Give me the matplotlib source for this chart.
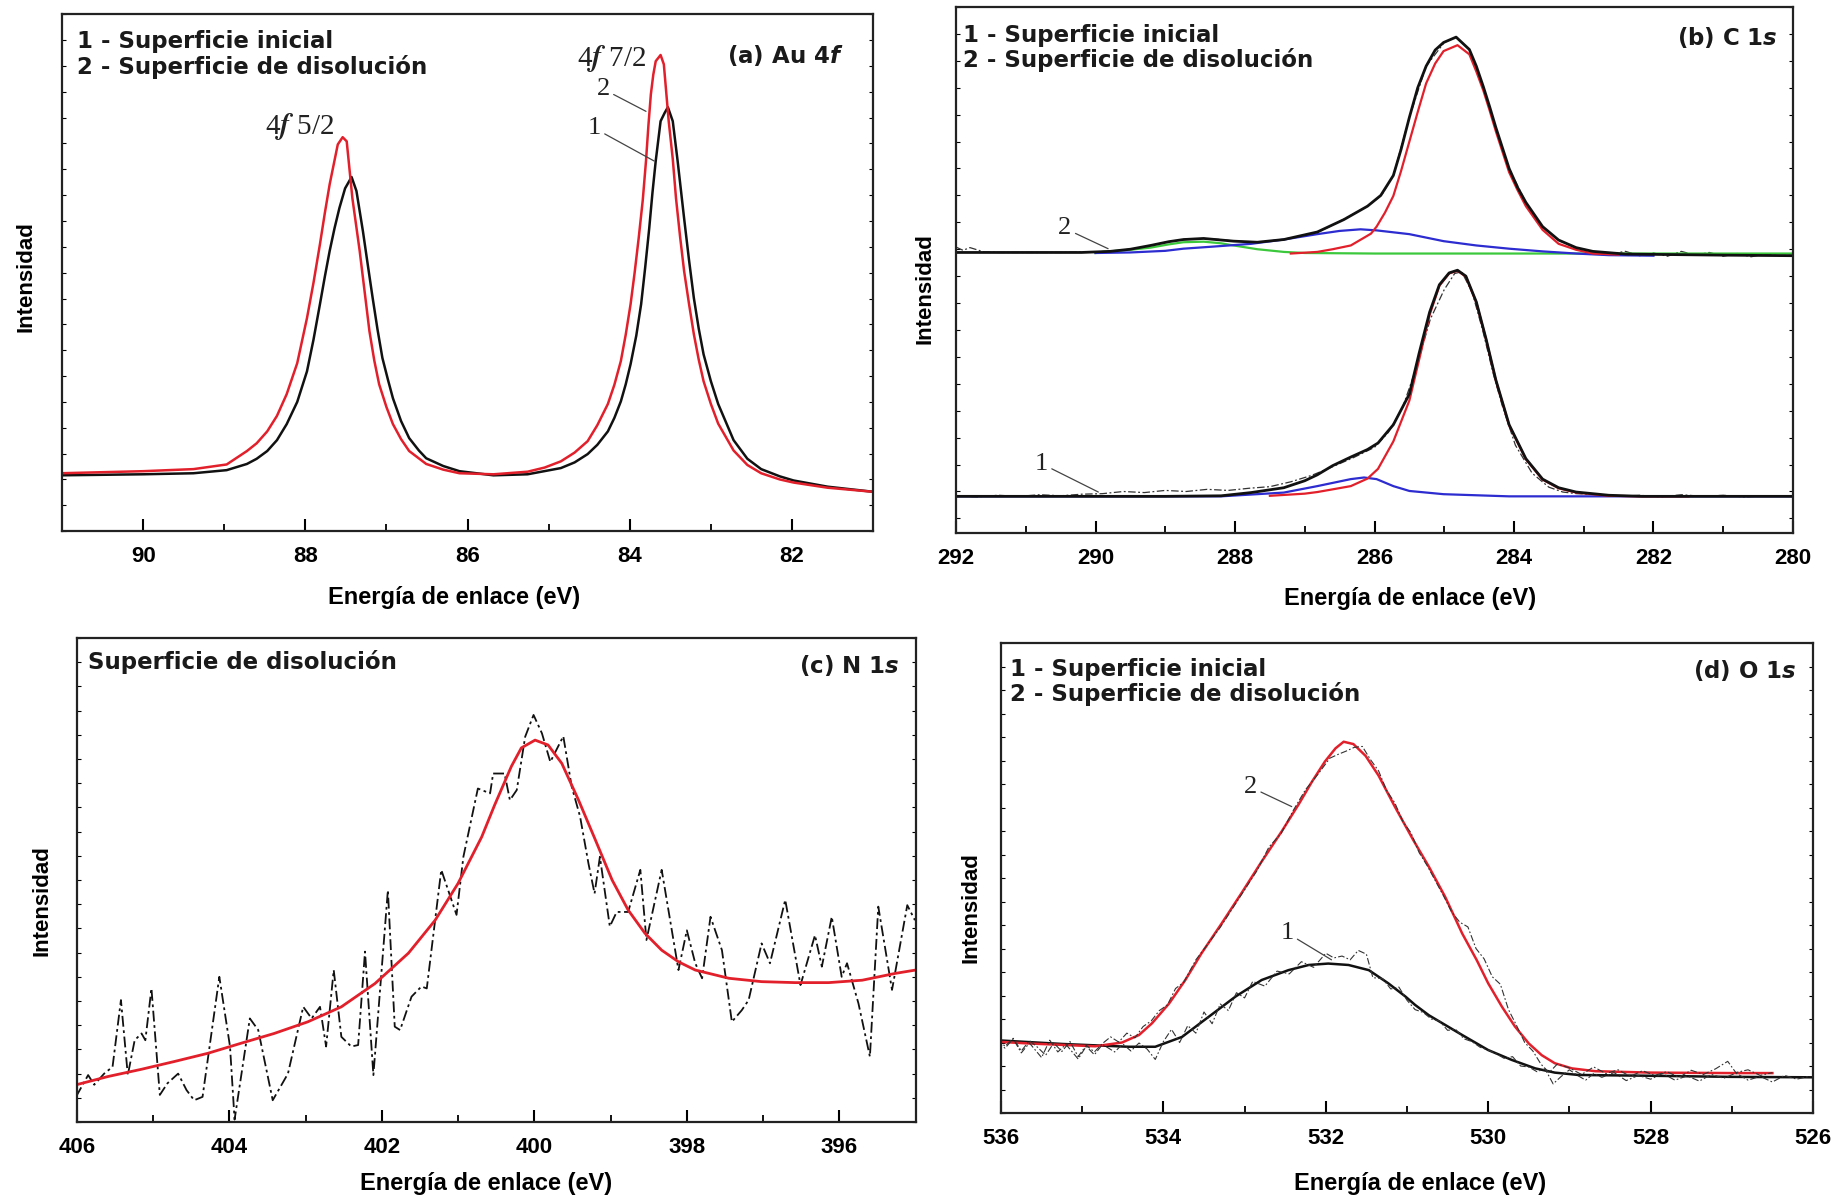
import matplotlib.pyplot as plt
from matplotlib.ticker import MultipleLocator

plt.rcParams['font.family'] = 'Liberation Sans'
plt.rcParams['font.weight'] = 'bold'

RED = '#e2202b'
BLACK = '#111111'
BLUE = '#2c2cd0'
GREEN = '#3cc83c'

# ---------------- (a) Au 4f ----------------
au_ev_ini = [91.02, 90.0, 89.38, 88.97, 88.72, 88.6, 88.47, 88.35, 88.23, 88.1, 87.98, 87.9, 87.82, 87.76,
             87.70, 87.64, 87.58, 87.51, 87.43, 87.37, 87.29, 87.23, 87.17, 87.11, 87.05, 86.98, 86.92,
             86.82, 86.72, 86.6, 86.51, 86.3, 86.10, 85.68, 85.26, 84.85, 84.68, 84.52, 84.4, 84.27,
             84.19, 84.11, 84.05, 83.99, 83.92, 83.86, 83.81, 83.76, 83.72, 83.68, 83.62, 83.57, 83.53,
             83.47, 83.41, 83.33, 83.27, 83.21, 83.15, 83.09, 83.0, 82.91, 82.72, 82.55, 82.38, 82.15,
             81.98, 81.56, 80.99]
au_int_ini = [10.8, 11.0, 11.2, 11.8, 13.0, 14.0, 15.5, 17.6, 20.7, 25.0, 30.9, 37.0, 43.9, 49.2,
              54.2, 58.6, 62.5, 66.3, 68.5, 65.8, 58.0, 51.5, 45.1, 39.0, 33.5, 29.2, 25.7,
              21.3, 18.0, 15.6, 14.1, 12.6, 11.6, 10.8, 11.0, 12.2, 13.3, 14.9, 16.7, 19.3,
              21.9, 25.1, 28.4, 32.3, 37.8, 43.9, 51.0, 58.6, 65.5, 71.6, 79.3, 80.9, 82.0,
              79.3, 71.6, 60.5, 52.5, 45.1, 39.2, 34.2, 29.0, 24.6, 17.6, 14.0, 12.0, 10.6,
              9.8, 8.6, 7.6]
au_ev_dis = [91.02, 90.0, 89.38, 88.97, 88.72, 88.6, 88.47, 88.35, 88.23, 88.1, 87.98, 87.9, 87.82, 87.76,
             87.70, 87.60, 87.54, 87.49, 87.42, 87.33, 87.21, 87.15, 87.09, 87.0, 86.92, 86.82, 86.72,
             86.51, 86.3, 86.10, 85.68, 85.26, 85.05, 84.85, 84.68, 84.52, 84.4, 84.27, 84.19, 84.11,
             84.05, 83.99, 83.94, 83.89, 83.84, 83.80, 83.77, 83.74, 83.71, 83.68, 83.62, 83.58, 83.52,
             83.47, 83.43, 83.38, 83.33, 83.27, 83.21, 83.15, 83.09, 83.0, 82.91, 82.72, 82.55, 82.38,
             82.15, 81.98, 81.56, 80.99]
au_int_dis = [11.2, 11.6, 12.0, 12.9, 15.5, 17.0, 19.3, 22.3, 26.5, 32.5, 41.2, 48.0, 55.5, 61.5,
              67.1, 74.8, 76.2, 75.4, 64.4, 54.2, 38.7, 33.0, 28.4, 24.0, 20.7, 17.8, 15.5,
              13.0, 11.9, 11.2, 11.0, 11.5, 12.3, 13.5, 15.2, 17.4, 20.5, 24.6, 28.3, 32.9,
              38.0, 43.9, 50.0, 56.7, 64.0, 71.6, 78.5, 84.5, 88.3, 90.9, 92.1, 90.3, 79.3,
              72.0, 64.4, 57.0, 50.3, 44.0, 38.1, 33.2, 29.0, 24.6, 20.8, 15.6, 12.8, 11.2,
              10.0, 9.4, 8.4, 7.6]

# ---------------- (b) C 1s ----------------
c2_env_ev = [292.0, 291.0, 290.2, 289.79, 289.5, 289.21, 288.95, 288.74, 288.45, 288.02, 287.68, 287.30,
             286.82, 286.44, 286.10, 285.91, 285.73, 285.62, 285.50, 285.38, 285.26, 285.13, 285.01,
             284.83, 284.64, 284.54, 284.44, 284.35, 284.26, 284.07, 283.95, 283.83, 283.59, 283.36,
             283.11, 282.87, 282.4, 281.0, 280.0]
c2_env_int = [54.4, 54.4, 54.4, 54.6, 55.0, 55.7, 56.4, 56.8, 57.0, 56.5, 56.3, 56.8,
              58.2, 60.5, 63.0, 65.0, 68.7, 73.5, 79.5, 85.0, 89.0, 92.0, 93.4,
              94.4, 92.1, 89.0, 85.2, 81.5, 77.6, 70.0, 66.5, 63.7, 59.2, 56.7,
              55.3, 54.6, 54.1, 53.9, 53.8]
c2_red_ev = [287.2, 286.82, 286.6, 286.34, 286.05, 285.97, 285.85, 285.73, 285.62, 285.50, 285.38, 285.26,
             285.13, 285.01, 284.81, 284.64, 284.54, 284.44, 284.35, 284.26, 284.07, 283.95, 283.83,
             283.59, 283.36, 283.11, 282.87, 282.5]
c2_red_int = [54.2, 54.5, 55.0, 55.7, 57.9, 59.2, 61.8, 64.9, 69.5, 75.0, 80.5, 85.8,
              89.5, 91.8, 92.9, 91.2, 88.0, 84.5, 80.8, 76.9, 69.3, 66.0, 63.0,
              58.6, 56.0, 54.9, 54.2, 54.0]
c2_blue_ev = [290.0, 289.5, 289.0, 288.74, 288.3, 287.77, 287.3, 286.82, 286.50, 286.20, 285.97, 285.50,
              285.01, 284.54, 284.07, 283.59, 283.11, 282.64, 282.0]
c2_blue_int = [54.3, 54.4, 54.7, 55.1, 55.5, 56.0, 56.8, 57.8, 58.4, 58.7, 58.5, 57.8,
               56.5, 55.7, 55.1, 54.6, 54.2, 53.9, 53.8]
c2_green_ev = [290.0, 289.9, 289.5, 289.21, 288.95, 288.74, 288.45, 288.2, 288.02, 287.68, 287.3, 287.0,
               286.0, 280.0]
c2_green_int = [54.3, 54.5, 54.9, 55.3, 55.9, 56.3, 56.4, 56.1, 55.7, 55.0, 54.5, 54.3,
                54.2, 54.2]
c2_data_ev = [292.0, 291.9, 291.8, 291.7, 291.6, 291.4, 291.0, 290.5, 290.0, 289.7, 289.4, 289.2, 289.0,
              288.7, 288.45, 288.2, 288.0, 287.7, 287.3, 286.8, 286.45, 286.1, 285.9, 285.73, 285.5,
              285.26, 285.0, 284.83, 284.64, 284.44, 284.26, 284.07, 283.83, 283.59, 283.36, 283.11,
              282.87, 282.6, 282.4, 282.2, 282.0, 281.8, 281.6, 281.4, 281.2, 281.0, 280.8, 280.6,
              280.4, 280.2, 280.0]
c2_data_int = [55.4, 54.8, 55.3, 54.9, 54.5, 54.4, 54.4, 54.4, 54.5, 54.7, 55.2, 55.7, 56.3,
               56.9, 57.0, 56.8, 56.5, 56.3, 56.8, 58.2, 60.5, 63.0, 65.0, 68.7, 79.5,
               89.0, 93.4, 94.4, 92.1, 85.2, 77.6, 70.0, 63.7, 59.2, 56.7, 55.3,
               54.6, 54.2, 54.6, 53.8, 54.3, 53.7, 54.6, 53.9, 54.4, 53.7, 54.2, 53.6,
               54.1, 53.8, 53.9]

c1_env_ev = [292.0, 289.0, 288.2, 287.77, 287.3, 287.0, 286.82, 286.6, 286.34, 286.1, 285.95, 285.73,
             285.5, 285.36, 285.21, 285.07, 284.93, 284.81, 284.69, 284.54, 284.4, 284.26, 284.07,
             283.83, 283.59, 283.36, 283.11, 282.64, 282.16, 280.0]
c1_env_int = [9.1, 9.1, 9.2, 9.8, 10.7, 12.0, 13.1, 14.8, 16.4, 17.8, 19.0, 22.4,
              28.1, 35.7, 43.3, 48.4, 50.6, 51.1, 50.0, 45.2, 38.3, 30.7, 22.4,
              16.1, 12.3, 10.7, 9.9, 9.3, 9.1, 9.1]
c1_red_ev = [287.5, 287.0, 286.82, 286.6, 286.34, 286.1, 285.95, 285.73, 285.5, 285.36, 285.21, 285.07,
             284.93, 284.81, 284.69, 284.54, 284.4, 284.26, 284.07, 283.83, 283.59, 283.36, 283.11,
             282.64, 282.16, 281.5]
c1_red_int = [9.2, 9.6, 9.9, 10.4, 11.0, 12.4, 14.2, 19.3, 26.9, 34.5, 42.8, 48.2,
              50.5, 51.0, 49.9, 45.1, 38.2, 30.6, 22.3, 16.0, 12.2, 10.6, 9.8,
              9.2, 9.1, 9.1]
c1_blue_ev = [292.0, 288.2, 287.3, 286.82, 286.34, 286.15, 285.97, 285.73, 285.5, 285.01, 284.07, 280.0]
c1_blue_int = [9.1, 9.1, 9.8, 11.0, 12.3, 12.6, 12.3, 11.0, 10.1, 9.5, 9.1, 9.1]
c1_data_ev = [292.0, 291.7, 291.4, 291.1, 290.8, 290.5, 290.2, 289.9, 289.6, 289.3, 289.0, 288.7, 288.4,
              288.1, 287.8, 287.5, 287.2, 286.9, 286.6, 286.3, 286.0, 285.8, 285.6, 285.4, 285.2,
              285.0, 284.85, 284.75, 284.6, 284.45, 284.3, 284.17, 283.98, 283.74, 283.5, 283.3,
              283.1, 282.8, 282.5, 282.2, 281.9, 281.6, 281.3, 281.0, 280.7, 280.4, 280.0]
c1_data_int = [9.2, 9.0, 9.3, 9.1, 9.4, 9.2, 9.5, 9.6, 10.0, 9.8, 10.2, 10.0, 10.4,
               10.2, 10.6, 10.9, 11.8, 13.0, 14.6, 16.3, 18.2, 21.0, 25.5, 33.0, 42.0,
               47.5, 50.5, 50.8, 47.0, 40.0, 32.0, 26.0, 18.6, 13.4, 10.8, 9.9,
               9.6, 9.4, 9.1, 9.3, 9.0, 9.4, 9.1, 9.3, 9.0, 9.2, 9.1]

# ---------------- (c) N 1s ----------------
n_data_ev = [406.01, 405.85, 405.77, 405.64, 405.53, 405.42, 405.33, 405.24, 405.15, 405.10, 405.02,
             404.91, 404.81, 404.67, 404.56, 404.46, 404.35, 404.13, 403.99, 403.93, 403.73, 403.62,
             403.43, 403.23, 403.03, 402.92, 402.81, 402.73, 402.63, 402.53, 402.40, 402.31, 402.22,
             402.11, 401.92, 401.83, 401.76, 401.61, 401.48, 401.41, 401.22, 401.02, 400.93, 400.74,
             400.58, 400.54, 400.39, 400.32, 400.23, 400.12, 400.01, 399.90, 399.79, 399.62, 399.51,
             399.40, 399.29, 399.21, 399.14, 399.01, 398.92, 398.77, 398.61, 398.53, 398.33, 398.11,
             398.00, 397.89, 397.80, 397.69, 397.54, 397.41, 397.28, 397.19, 397.02, 396.91, 396.71,
             396.51, 396.32, 396.23, 396.10, 395.97, 395.90, 395.75, 395.60, 395.49, 395.31, 395.11,
             395.01]
n_data_int = [5.2, 9.7, 7.7, 10.0, 11.4, 25.2, 9.7, 16.9, 18.3, 16.9, 27.6,
              5.6, 8.0, 10.0, 6.6, 4.5, 5.2, 30.0, 15.6, 0.5, 21.4, 19.0,
              4.5, 10.0, 23.8, 21.4, 23.8, 15.6, 31.4, 17.6, 15.6, 15.9, 35.2,
              9.7, 47.9, 19.7, 19.0, 25.9, 28.0, 27.6, 52.1, 42.8, 54.8, 68.9,
              67.9, 72.0, 72.0, 66.5, 68.6, 79.6, 84.1, 80.3, 74.4, 79.7, 69.3,
              63.1, 53.4, 47.2, 54.8, 40.4, 43.4, 43.4, 52.1, 37.6, 52.1, 31.4,
              39.6, 32.8, 29.7, 42.4, 35.5, 20.7, 23.1, 25.2, 36.9, 32.8, 45.9,
              28.3, 38.6, 32.1, 42.4, 30.0, 32.8, 24.5, 13.5, 44.5, 27.3, 44.8,
              41.7]
n_fit_ev = [406.03, 405.59, 405.15, 404.72, 404.28, 403.84, 403.41, 402.97, 402.53, 402.09, 401.65,
            401.30, 401.00, 400.69, 400.52, 400.30, 400.17, 399.99, 399.82, 399.64, 399.42, 399.20,
            398.98, 398.77, 398.55, 398.33, 398.11, 397.89, 397.45, 397.02, 396.58, 396.14, 395.70,
            395.27, 395.0]
n_fit_int = [7.6, 9.4, 10.9, 12.5, 14.2, 16.3, 18.3, 20.7, 23.8, 28.6, 34.9,
             41.7, 49.3, 58.9, 65.5, 73.5, 77.3, 78.9, 77.9, 74.1, 66.5, 58.3,
             50.0, 43.8, 39.0, 35.5, 33.1, 31.4, 29.7, 29.0, 28.8, 28.8, 29.3,
             30.7, 31.4]

# ---------------- (d) O 1s ----------------
o2_fit_ev = [536.07, 535.66, 535.25, 534.84, 534.51, 534.30, 534.14, 533.93, 533.73, 533.53, 533.28,
             533.03, 532.79, 532.54, 532.33, 532.17, 532.01, 531.88, 531.78, 531.66, 531.51, 531.35,
             531.15, 530.92, 530.73, 530.53, 530.32, 530.14, 530.00, 529.83, 529.67, 529.50, 529.34,
             529.18, 528.97, 528.68, 528.0, 527.0, 526.5]
o2_fit_int = [15.2, 14.8, 14.5, 14.2, 15.0, 16.6, 19.1, 23.3, 28.3, 34.0, 40.4,
              47.0, 53.5, 60.0, 65.8, 70.5, 74.8, 77.6, 79.0, 78.5, 76.0, 71.8,
              65.2, 58.0, 52.4, 46.0, 38.2, 32.5, 27.6, 22.6, 18.4, 14.8, 12.3,
              10.6, 9.5, 8.9, 8.6, 8.5, 8.5]
o1_fit_ev = [536.07, 535.25, 534.43, 534.10, 533.77, 533.44, 533.11, 532.79, 532.46, 532.21, 531.97,
             531.72, 531.47, 531.23, 531.02, 530.90, 530.73, 530.32, 530.0, 529.71, 529.42, 529.18,
             528.89, 527.86, 527.04, 526.0]
o1_fit_int = [15.5, 14.7, 14.1, 14.1, 16.2, 20.5, 24.8, 28.3, 30.4, 31.5, 31.8,
              31.5, 30.4, 27.6, 24.8, 23.0, 20.8, 16.6, 13.4, 11.3, 9.5, 8.6,
              8.1, 7.9, 7.7, 7.6]
o2_data_ev = [536.05, 535.95, 535.85, 535.75, 535.65, 535.55, 535.45, 535.35, 535.25, 535.15, 535.05,
              534.95, 534.85, 534.75, 534.65, 534.55, 534.45, 534.35, 534.25, 534.15, 534.05, 533.95,
              533.85, 533.75, 533.6, 533.45, 533.3, 533.15, 533.0, 532.85, 532.7, 532.55, 532.4,
              532.25, 532.1, 531.95, 531.85, 531.75, 531.65, 531.55, 531.45, 531.35, 531.25, 531.15,
              531.05, 530.95, 530.85, 530.75, 530.65, 530.55, 530.45, 530.35, 530.25, 530.15, 530.05,
              529.95, 529.85, 529.75, 529.65, 529.55, 529.45, 529.35, 529.25, 529.15, 529.0, 528.85,
              528.7, 528.55, 528.4, 528.25, 528.1, 527.95, 527.8, 527.65, 527.5, 527.35, 527.2,
              527.05, 526.95, 526.8, 526.65, 526.5]
o2_data_int = [15.8, 14.2, 15.9, 13.2, 15.4, 14.0, 12.3, 14.9, 13.1, 15.2, 12.0,
               14.4, 13.0, 14.8, 16.2, 15.1, 17.0, 16.0, 18.4, 19.6, 21.8, 23.0,
               26.5, 27.8, 32.6, 36.0, 39.5, 43.5, 47.5, 51.5, 56.6, 59.5, 64.4,
               68.8, 72.0, 75.5, 76.3, 77.0, 77.8, 78.0, 75.2, 72.8, 68.6, 66.0,
               62.0, 59.6, 55.4, 52.6, 49.4, 46.2, 42.8, 40.6, 39.6, 35.0, 32.8,
               29.0, 27.4, 22.0, 18.6, 15.0, 13.2, 10.4, 8.6, 10.4, 9.6, 8.2,
               9.8, 8.4, 9.2, 7.8, 9.0, 8.0, 8.8, 7.6, 9.1, 8.2, 9.4,
               11.0, 8.6, 9.2, 8.0, 8.6]
o1_data_ev = [536.05, 535.95, 535.85, 535.75, 535.65, 535.5, 535.4, 535.3, 535.2, 535.05, 534.95,
              534.85, 534.75, 534.6, 534.5, 534.4, 534.3, 534.2, 534.1, 534.0, 533.9, 533.8,
              533.7, 533.6, 533.5, 533.4, 533.3, 533.2, 533.1, 533.0, 532.9, 532.75, 532.6,
              532.45, 532.3, 532.15, 532.0, 531.9, 531.8, 531.7, 531.6, 531.5, 531.42, 531.3,
              531.2, 531.1, 531.0, 530.9, 530.8, 530.7, 530.6, 530.5, 530.4, 530.3, 530.2,
              530.1, 530.0, 529.9, 529.8, 529.7, 529.6, 529.5, 529.4, 529.3, 529.2, 529.1,
              529.0, 528.9, 528.8, 528.7, 528.6, 528.45, 528.3, 528.15, 528.0, 527.85, 527.7,
              527.55, 527.4, 527.25, 527.1, 526.95, 526.8, 526.65, 526.5, 526.35, 526.2, 526.05]
o1_data_int = [15.2, 13.8, 15.8, 12.8, 14.9, 11.8, 15.5, 13.0, 14.6, 11.5, 14.2,
               12.4, 14.6, 13.0, 14.7, 13.2, 14.9, 13.6, 11.4, 15.2, 17.8, 15.0,
               18.6, 17.0, 21.5, 19.0, 23.2, 21.8, 25.6, 24.5, 28.0, 27.0, 30.2,
               29.6, 32.2, 31.0, 34.0, 33.0, 33.4, 32.6, 34.6, 33.8, 28.8, 28.6,
               26.4, 26.8, 24.0, 22.0, 21.4, 20.0, 19.6, 17.6, 17.8, 15.8, 15.2,
               14.0, 13.4, 12.6, 11.6, 12.0, 10.0, 9.8, 8.8, 9.4, 6.2, 7.8,
               9.2, 8.0, 7.0, 8.4, 7.6, 8.6, 6.9, 8.0, 7.2, 8.4, 7.0,
               7.9, 6.8, 8.2, 7.4, 8.5, 7.0, 7.8, 6.6, 8.0, 7.2, 7.8]

LEG1 = '1 - Superficie inicial'
LEG2 = '2 - Superficie de disolución'
XLABEL = 'Energía de enlace (eV)'
YLABEL = 'Intensidad'
DASHDOT = (0, (6, 2, 1.5, 2))


def style_axes(ax, xlim, ylim, xlab_pos, ylab_pos):
    ax.set_xlim(*xlim)
    ax.set_ylim(*ylim)
    ax.xaxis.set_major_locator(MultipleLocator(2))
    ax.xaxis.set_minor_locator(MultipleLocator(1))
    ax.yaxis.set_major_locator(MultipleLocator(20))
    ax.yaxis.set_minor_locator(MultipleLocator(5))
    ax.tick_params(axis='both', which='both', direction='in', right=True)
    ax.tick_params(axis='x', which='major', length=9, width=1.5, pad=11, labelsize=16)
    ax.tick_params(axis='x', which='minor', length=5, width=1.3)
    ax.tick_params(axis='y', which='both', length=3, width=0.8, labelleft=False)
    for lab in ax.get_xticklabels():
        lab.set_fontweight('bold')
    for sp in ax.spines.values():
        sp.set_linewidth(1.6)
        sp.set_color('#222222')
    ax.set_xlabel(XLABEL, fontsize=17, fontweight='bold', va='center')
    ax.xaxis.set_label_coords(*xlab_pos)
    ax.set_ylabel(YLABEL, fontsize=16, fontweight='bold', va='center')
    ax.yaxis.set_label_coords(*ylab_pos)


def header(ax, lines, x, ys, label, italic, lx, ly):
    for s, y in zip(lines, ys):
        ax.text(x, y, s, transform=ax.transAxes, family='DejaVu Sans', fontweight='bold',
                fontsize=16.5, va='baseline', ha='left', color='#1a1a1a')
    ax.text(lx, ly, label + r'$\mathbfit{' + italic + '}$', transform=ax.transAxes,
            family='DejaVu Sans', fontweight='bold', fontsize=16.5, va='baseline', ha='right',
            math_fontfamily='dejavusans', color='#1a1a1a')


def tag(ax, s, xytext, xy, size=19):
    ax.annotate(s, xy=xy, xytext=xytext, ha='center', va='center', fontsize=size,
                family='Liberation Serif', fontweight='normal', color='#222222',
                arrowprops=dict(arrowstyle='-', lw=0.9, color='#444444', shrinkA=1, shrinkB=0,
                                relpos=(1.0, 0.35)))


fig = plt.figure(figsize=(18.35, 11.99), dpi=100)
ax_a = fig.add_axes([0.0338, 0.5570, 0.4420, 0.4312])
ax_b = fig.add_axes([0.5210, 0.5555, 0.4561, 0.4387])
ax_c = fig.add_axes([0.0418, 0.0642, 0.4572, 0.4037])
ax_d = fig.add_axes([0.5455, 0.0717, 0.4425, 0.3920])

# --- (a) ---
ax_a.plot(au_ev_ini, au_int_ini, color=BLACK, lw=1.8)
ax_a.plot(au_ev_dis, au_int_dis, color=RED, lw=1.8)
style_axes(ax_a, (91, 81), (0, 100), (0.483, -0.128), (-0.044, 0.493))
header(ax_a, [LEG1, LEG2], 0.0185, [0.934, 0.885], '(a) Au 4', 'f', 0.963, 0.906)
ax_a.text(88.07, 78.3, r'4$\it{f}$ 5/2', ha='center', va='center', fontsize=21,
          family='Liberation Serif', fontweight='normal', math_fontfamily='stix', color='#222222')
ax_a.text(84.22, 91.5, r'4$\it{f}$ 7/2', ha='center', va='center', fontsize=21,
          family='Liberation Serif', fontweight='normal', math_fontfamily='stix', color='#222222')
tag(ax_a, '2', (84.33, 85.5), (83.80, 81.2))
tag(ax_a, '1', (84.44, 77.9), (83.70, 71.6))

# --- (b) ---
ax_b.plot(c2_data_ev, c2_data_int, color='#333333', lw=0.9, ls=DASHDOT)
ax_b.plot(c1_data_ev, c1_data_int, color='#333333', lw=0.9, ls=DASHDOT)
ax_b.plot(c2_green_ev, c2_green_int, color=GREEN, lw=1.6)
ax_b.plot(c2_blue_ev, c2_blue_int, color=BLUE, lw=1.6)
ax_b.plot(c1_blue_ev, c1_blue_int, color=BLUE, lw=1.6)
ax_b.plot(c2_red_ev, c2_red_int, color=RED, lw=1.6)
ax_b.plot(c1_red_ev, c1_red_int, color=RED, lw=1.6)
ax_b.plot(c2_env_ev, c2_env_int, color=BLACK, lw=2.0)
ax_b.plot(c1_env_ev, c1_env_int, color=BLACK, lw=2.0)
style_axes(ax_b, (292, 280), (2.3, 100), (0.542, -0.125), (-0.0376, 0.464))
header(ax_b, [LEG1, LEG2], 0.0085, [0.933, 0.885], '(b) C 1', 's', 0.982, 0.928)
tag(ax_b, '2', (290.44, 58.9), (289.82, 55.1))
tag(ax_b, '1', (290.78, 15.2), (289.96, 9.9))

# --- (c) ---
ax_c.plot(n_data_ev, n_data_int, color=BLACK, lw=1.3, ls=DASHDOT)
ax_c.plot(n_fit_ev, n_fit_int, color=RED, lw=2.0)
style_axes(ax_c, (406, 395), (0, 100), (0.488, -0.128), (-0.0414, 0.457))
header(ax_c, ['Superficie de disolución'], 0.0135, [0.935], '(c) N 1', 's', 0.981, 0.927)

# --- (d) ---
ax_d.plot(o1_fit_ev, o1_fit_int, color=BLACK, lw=1.8)
ax_d.plot(o2_fit_ev, o2_fit_int, color=RED, lw=1.8)
ax_d.plot(o1_data_ev, o1_data_int, color='#333333', lw=0.8, ls=DASHDOT)
ax_d.plot(o2_data_ev, o2_data_int, color='#333333', lw=0.8, ls=DASHDOT)
style_axes(ax_d, (536, 526), (0, 100), (0.516, -0.15), (-0.037, 0.438))
header(ax_d, [LEG1, LEG2], 0.011, [0.930, 0.877], '(d) O 1', 's', 0.980, 0.925)
tag(ax_d, '2', (532.93, 69.4), (532.42, 65.2))
tag(ax_d, '1', (532.48, 38.2), (531.93, 32.6))

fig.savefig('out.png', dpi=100)
plt.close(fig)
